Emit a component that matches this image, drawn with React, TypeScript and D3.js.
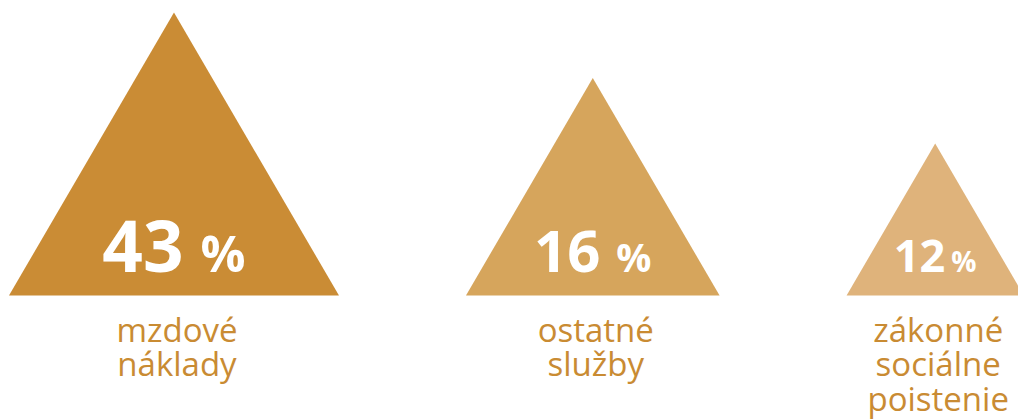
import { useEffect, useRef } from "react";
import * as d3 from "d3";

// data
const categories = ["mzdové náklady", "ostatné služby", "zákonné sociálne poistenie"];
const labelLines = [["mzdové", "náklady"], ["ostatné", "služby"], ["zákonné", "sociálne", "poistenie"]];
const shares = [43, 16, 12];

// styles
const fills = ["#CA8C35", "#D6A55C", "#DFB37B"];
const labelColor = "#C98B33";
const numSizes = [71, 58, 45];
const pctSizes = [50, 39, 28];
const pctGaps = [17, 16, 6];

const W = 1018;
const H = 419;

export default function App() {
  const ref = useRef<SVGSVGElement | null>(null);

  useEffect(() => {
    if (!ref.current) return;
    const svg = d3.select(ref.current);
    svg.selectAll("*").remove();

    const baseY = 295.5;
    const gap = 127;
    const ratio = 1.166;
    // triangle height by rank (largest share first)
    const h = d3.scaleLinear().domain([0, shares.length - 1]).range([283, 152]);

    const items = shares.map((v, i) => ({ v, i, h: h(i), w: h(i) * ratio, x0: 0 }));
    let x = 9;
    items.forEach(d => { d.x0 = x; x += d.w + gap; });

    const g = svg.selectAll("g.tri")
      .data(items)
      .join("g")
      .attr("class", "tri")
      .attr("transform", d => `translate(${d.x0 + d.w / 2},${baseY})`);

    g.append("path")
      .attr("d", d => {
        const p = d3.path();
        p.moveTo(-d.w / 2, 0);
        p.lineTo(0, -d.h);
        p.lineTo(d.w / 2, 0);
        p.closePath();
        return p.toString();
      })
      .attr("fill", d => fills[d.i]);

    const t = g.append("text")
      .attr("y", -23.5)
      .attr("text-anchor", "middle")
      .attr("fill", "#fff")
      .attr("font-family", "'Open Sans', sans-serif")
      .attr("font-weight", 700);
    t.append("tspan")
      .attr("font-size", d => numSizes[d.i])
      .text(d => String(d.v));
    t.append("tspan")
      .attr("dx", d => pctGaps[d.i])
      .attr("font-size", d => pctSizes[d.i])
      .text("%");

    g.append("text")
      .attr("text-anchor", "middle")
      .attr("fill", labelColor)
      .attr("font-family", "'Open Sans', sans-serif")
      .attr("font-weight", 400)
      .attr("font-size", 33)
      .attr("aria-label", d => categories[d.i])
      .selectAll("tspan")
      .data(d => labelLines[d.i].map((s, k) => ({ s, k })))
      .join("tspan")
      .attr("x", 3)
      .attr("y", d => 46 + d.k * 34.5)
      .text(d => d.s);
  }, []);

  return (
    <div style={{ position: "absolute", left: 0, top: 0, width: W, height: H, background: "#fff" }}>
      <svg ref={ref} width={W} height={H} role="img" aria-label="Štruktúra nákladov" />
    </div>
  );
}
